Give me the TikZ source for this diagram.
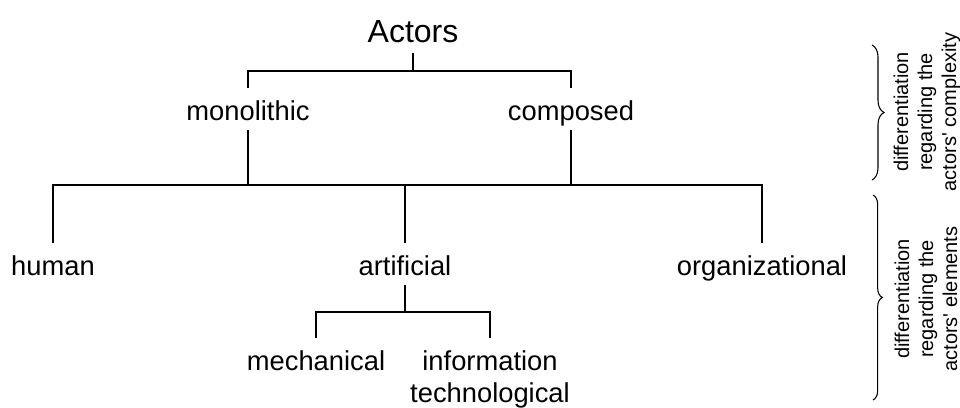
\documentclass[tikz,border=0pt]{standalone}
\usepackage{fontspec}
\setmainfont{Liberation Sans}[Ligatures=TeXOff]
\usepackage{tikz}
\usetikzlibrary{
    positioning,
    decorations.pathreplacing
}
\tikzstyle{term} = [
    inner sep=0pt,
    anchor=base,
    font=\fontsize{20.5}{24}\selectfont,
    text height=24pt,
    text depth=7.5pt
]
\tikzstyle{tree} = [
    line width=0.8pt
]
\tikzstyle{note} = [
    rotate=90,
    align=center,
    font=\fontsize{15}{18}\selectfont
]
\tikzstyle{bracket} = [
    decorate,
    line width=0.8pt
]

\begin{document}
\begin{tikzpicture}[
    x=0.75pt, y=-0.75pt,
    root/.style={
        term,
        font=\fontsize{24}{28}\selectfont,
        text depth=8.25pt
    }
]
\useasboundingbox (0,0) rectangle (960,407);

% Ebene 0 und 1
\node[root] (actors) at (413,42) {Actors};
\node[term] (monolithic) at (248,120) {monolithic};
\node[term] (composed) at (571,120) {composed};

% Ebene 2
\node[term] (human) at (53,275) {human};
\node[term] (artificial) at (405,275) {artificial};
\node[term] (organizational) at (762,275) {organizational};

% Ebene 3
\node[term] (mechanical) at (316,370) {mechanical};
\node[anchor=north, inner xsep=0pt, inner ysep=9pt, align=center,
      font=\fontsize{20.5}{24}\selectfont] (infotech) at (490,338)
      {information\\technological};

% Verzweigungen
\coordinate (top) at (413,71);
\coordinate (bar) at (0,185);
\coordinate (low) at (0,312);

\draw[tree] (actors) -- (top);
\draw[tree] (monolithic) |- (top) -| (composed);
\draw[tree] (monolithic) -- (monolithic |- bar);
\draw[tree] (composed) -- (composed |- bar);
\draw[tree] (human) |- (artificial |- bar) -| (organizational);
\draw[tree] (artificial) -- (artificial |- bar);
\draw[tree] (artificial) -- (artificial |- low);
\draw[tree] (mechanical) |- (artificial |- low) -| (infotech);

% Klammern rechts
\coordinate (b1) at (872,45);
\coordinate (b2) at (872,180);
\coordinate (b3) at (873,195);
\coordinate (b4) at (873,400);
\draw[bracket, decoration={brace, amplitude=9pt}] (b1) -- (b2);
\draw[bracket, decoration={brace, amplitude=7pt}] (b3) -- (b4);

\node[note] (complexity) at (927,112)
    {differentiation\\regarding the\\actors' complexity};
\node[note] (elements) at (926,299)
    {differentiation\\regarding the\\actors' elements};

\end{tikzpicture}
\end{document}
